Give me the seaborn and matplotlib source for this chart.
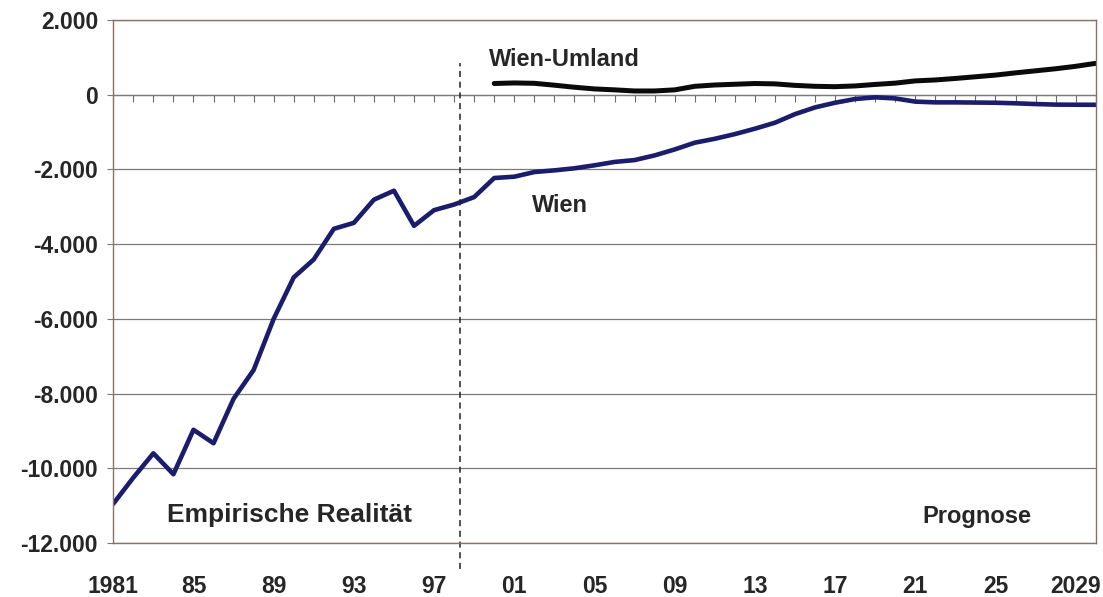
import matplotlib
matplotlib.use("Agg")
import matplotlib.pyplot as plt
import matplotlib.ticker as mticker
import seaborn as sns
import pandas as pd

# Wanderungssaldo Wien / Wien-Umland, 1981-2030
jahre_wien = list(range(1981, 2031))
wien = [-10950, -10250, -9600, -10160, -8970, -9330, -8140, -7370, -6000, -4890,
        -4410, -3590, -3430, -2810, -2570, -3510, -3090, -2940, -2740, -2230,
        -2195, -2070, -2025, -1970, -1890, -1800, -1750, -1625, -1465, -1285,
        -1180, -1055, -910, -750, -520, -340, -215, -115, -70, -100,
        -185, -205, -205, -210, -215, -230, -250, -265, -268, -270]

jahre_umland = list(range(2000, 2031))
umland = [300, 315, 305, 255, 200, 155, 130, 100, 100, 130,
          225, 260, 280, 300, 290, 250, 225, 215, 235, 275,
          310, 370, 395, 435, 480, 525, 585, 640, 695, 760, 840]

xtick_jahre = list(range(1981, 2030, 4))
xtick_labels = ["1981", "85", "89", "93", "97", "01", "05", "09", "13", "17", "21", "25", "2029"]
yticks = list(range(-12000, 2001, 2000))
grenze = 1998.3  # Ende empirische Daten

df = pd.concat([
    pd.DataFrame({"Jahr": jahre_wien, "Saldo": wien, "Region": "Wien"}),
    pd.DataFrame({"Jahr": jahre_umland, "Saldo": umland, "Region": "Wien-Umland"}),
])

sns.set_theme(style="white")
plt.rcParams["font.family"] = ["Liberation Sans", "DejaVu Sans"]
plt.rcParams["font.weight"] = "bold"

fig = plt.figure(figsize=(11.03, 5.97), dpi=100)
ax = fig.add_axes([0.1027, 0.0905, 0.8907, 0.876])

ax.grid(axis="y", color="#7a7a7a", linewidth=0.9)
ax.set_axisbelow(True)

sns.lineplot(data=df[df.Region == "Wien"], x="Jahr", y="Saldo", color="#1c1c6c",
             linewidth=3.3, ax=ax, legend=False, solid_joinstyle="round", solid_capstyle="round")
sns.lineplot(data=df[df.Region == "Wien-Umland"], x="Jahr", y="Saldo", color="#0a0a0a",
             linewidth=3.6, ax=ax, legend=False, solid_joinstyle="round", solid_capstyle="round")

ax.set_xlim(1981, 2030)
ax.set_ylim(-12000, 2000)
ax.set_xticks(xtick_jahre, xtick_labels)
ax.set_yticks(yticks)
ax.yaxis.set_major_formatter(mticker.FuncFormatter(lambda v, p: f"{v:,.0f}".replace(",", ".")))
ax.tick_params(axis="x", length=0, pad=23, labelsize=16.5)
ax.tick_params(axis="y", length=4, width=0.8, color="#7a7a7a", pad=7, labelsize=16.5,
               left=True, direction="out")
for lab in ax.get_xticklabels() + ax.get_yticklabels():
    lab.set_fontweight("bold")
ax.set_xlabel("")
ax.set_ylabel("")
for sp in ax.spines.values():
    sp.set_color("#8e6f68")
    sp.set_linewidth(1.0)

# Kategorienachse bei 0 mit Jahres-Teilstrichen
nullpos = (0 - (-12000)) / (2000 - (-12000))
sec = ax.secondary_xaxis(nullpos)
sec.set_alignment("bottom")
sec.set_xticks(jahre_wien)
sec.xaxis.set_major_formatter(mticker.NullFormatter())
sec.tick_params(length=5, width=0.8, color="#6a6a6a", direction="out")
sec.spines["bottom"].set_color("#7a7a7a")
sec.spines["bottom"].set_linewidth(0.9)

# Trennlinie Empirie / Prognose
ax.axvline(grenze, ymin=-0.05, ymax=0.917, color="#222222", linewidth=1.1,
           linestyle=(0, (4, 3)), clip_on=False)

ax.text(1999.72, 763, "Wien-Umland", fontsize=17, fontweight="bold", ha="left", va="baseline")
ax.text(2001.9, -3137, "Wien", fontsize=17, fontweight="bold", ha="left", va="baseline")
ax.text(1983.68, -11439, "Empirische Realität", fontsize=19, fontweight="bold",
        ha="left", va="baseline")
ax.text(2021.34, -11461, "Prognose", fontsize=17, fontweight="bold", ha="left", va="baseline")

fig.savefig("out.png", dpi=100)
